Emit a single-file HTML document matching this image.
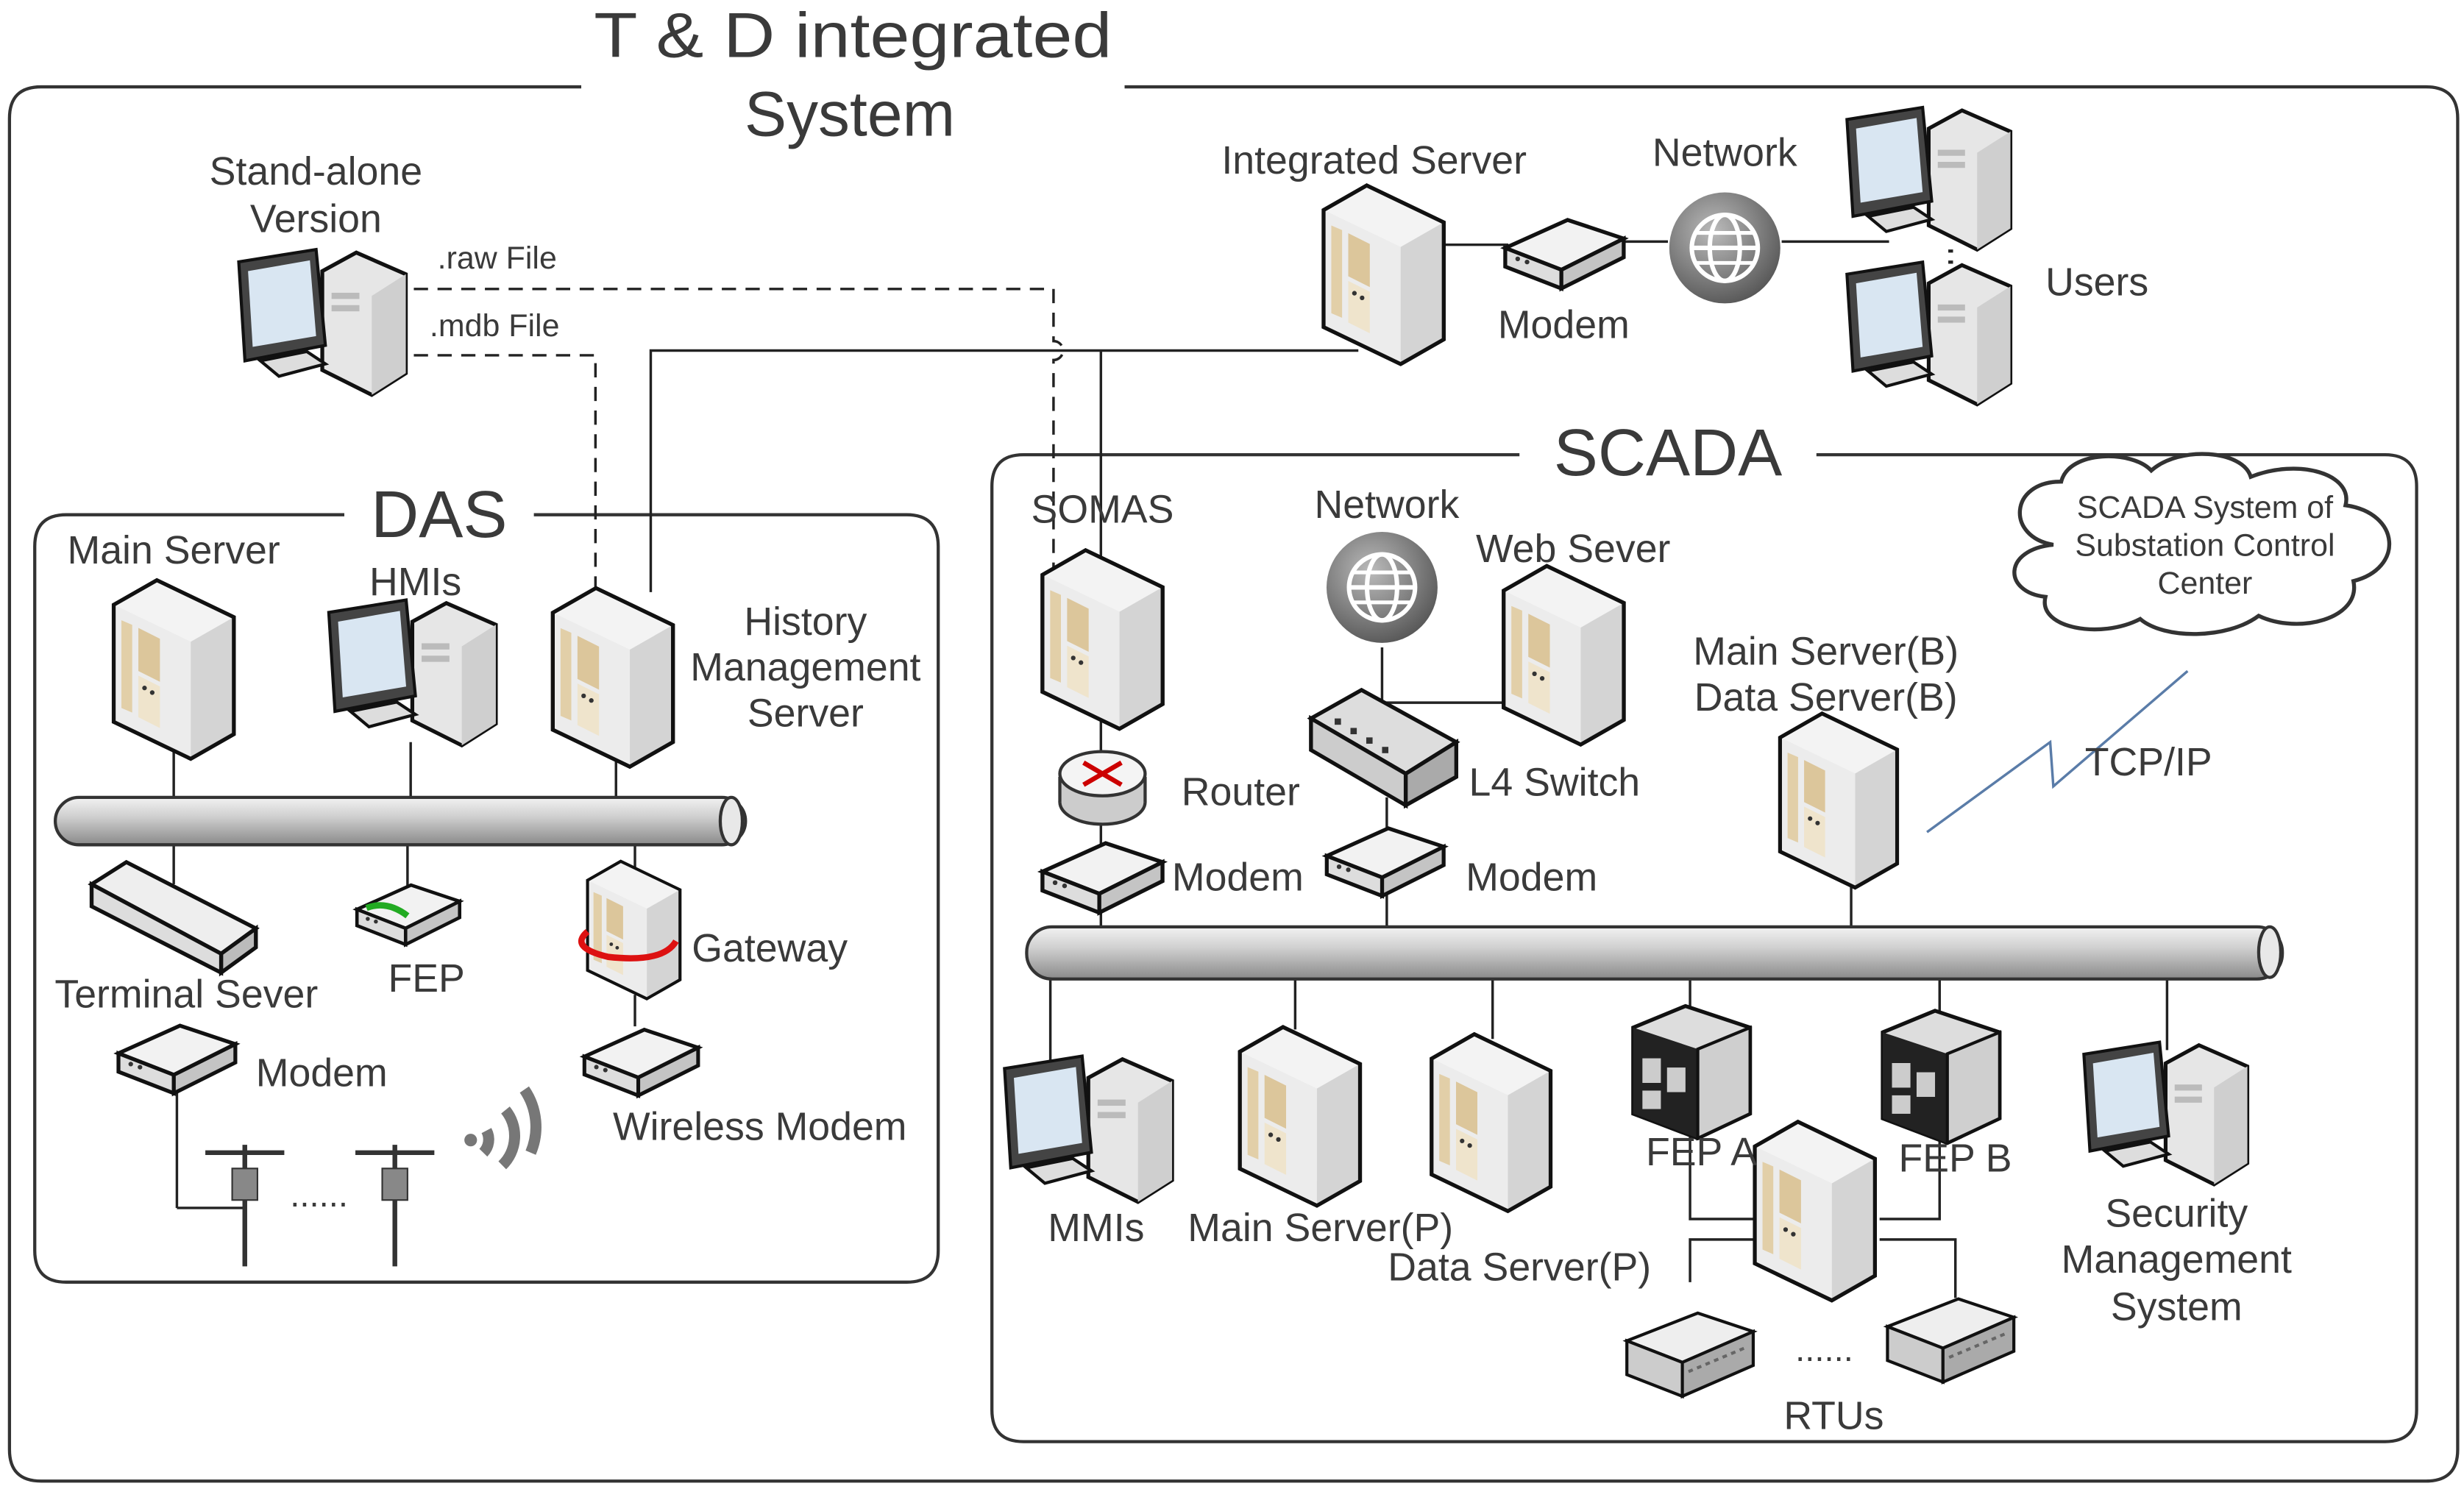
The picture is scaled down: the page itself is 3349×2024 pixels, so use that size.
<!DOCTYPE html>
<html><head><meta charset="utf-8"><style>
html,body{margin:0;padding:0;background:#fff;}
svg{display:block;}
text{font-family:"Liberation Sans",sans-serif;fill:#3a3a3a;}
</style></head><body>
<svg width="3349" height="2024" viewBox="0 0 1560 943" preserveAspectRatio="none" xmlns="http://www.w3.org/2000/svg">
<defs>
<linearGradient id="pipe" x1="0" y1="0" x2="0" y2="1">
<stop offset="0" stop-color="#f2f2f2"/><stop offset="0.4" stop-color="#d0d0d0"/><stop offset="1" stop-color="#8a8a8a"/></linearGradient>
<radialGradient id="glb" cx="0.4" cy="0.35" r="0.7"><stop offset="0" stop-color="#bbb"/><stop offset="1" stop-color="#555"/></radialGradient>
<symbol id="srv" viewBox="0 0 80 116" overflow="visible">
<polygon points="0,16 28,0 78,24 78,100 50,116 0,92" fill="#e6e6e6" stroke="#111" stroke-width="2.5"/>
<polygon points="28,0 78,24 50,40 0,16" fill="#f3f3f3"/>
<polygon points="50,40 78,24 78,100 50,116" fill="#d4d4d4"/>
<polygon points="0,16 50,40 50,116 0,92" fill="#ececec"/>
<polygon points="0,16 28,0 78,24 78,100 50,116 0,92" fill="none" stroke="#111" stroke-width="2.5"/>
<polygon points="5,26 12,29 12,86 5,83" fill="#e2cfa8"/>
<polygon points="16,31 30,38 30,66 16,59" fill="#dcc69b"/>
<polygon points="16,62 30,69 30,96 16,89" fill="#efe4cc"/>
<circle cx="20" cy="70" r="1.5" fill="#333"/><circle cx="25" cy="73" r="1.5" fill="#333"/>
</symbol>
<symbol id="pc" viewBox="0 0 112 96" overflow="visible">
<polygon points="54,14 76,2 108,16 108,80 86,94 54,78" fill="#e6e6e6" stroke="#111" stroke-width="2.5"/>
<polygon points="86,30 108,16 108,80 86,94" fill="#cfcfcf"/>
<rect x="60" y="28" width="18" height="4" fill="#bbb"/><rect x="60" y="36" width="18" height="4" fill="#bbb"/>
<polygon points="0,8 50,0 56,62 4,72" fill="#444" stroke="#111" stroke-width="2"/>
<polygon points="6,14 46,7 50,56 9,63" fill="#d9e6f2"/>
<polygon points="14,72 44,66 56,74 26,82" fill="#ddd" stroke="#111" stroke-width="2"/>
</symbol>
<symbol id="mdm" viewBox="0 0 76 50" overflow="visible">
<polygon points="0,22 40,4 76,16 36,36" fill="#f2f2f2" stroke="#111" stroke-width="2.5"/>
<polygon points="0,22 36,36 36,48 0,34" fill="#ddd" stroke="#111" stroke-width="2.5"/>
<polygon points="36,36 76,16 76,28 36,48" fill="#c4c4c4" stroke="#111" stroke-width="2.5"/>
<circle cx="8" cy="29" r="1.5" fill="#333"/><circle cx="14" cy="31" r="1.5" fill="#333"/>
</symbol>
<symbol id="globe" viewBox="-40 -40 80 80" overflow="visible">
<circle r="37" fill="url(#glb)"/><circle r="22" fill="none" stroke="#fff" stroke-width="3"/>
<ellipse rx="10" ry="22" fill="none" stroke="#fff" stroke-width="3"/>
<line x1="-22" y1="0" x2="22" y2="0" stroke="#fff" stroke-width="3"/>
<line x1="-19" y1="-10" x2="19" y2="-10" stroke="#fff" stroke-width="2.5"/>
<line x1="-19" y1="10" x2="19" y2="10" stroke="#fff" stroke-width="2.5"/>
</symbol>
<symbol id="rtu" viewBox="0 0 82 60" overflow="visible">
<polygon points="0,24 46,6 82,18 36,38" fill="#eee" stroke="#111" stroke-width="2"/>
<polygon points="0,24 36,38 36,60 0,46" fill="#ccc" stroke="#111" stroke-width="2"/>
<polygon points="36,38 82,18 82,40 36,60" fill="#aaa" stroke="#111" stroke-width="2"/>
<line x1="40" y1="44" x2="78" y2="28" stroke="#666" stroke-width="2" stroke-dasharray="3 3"/>
</symbol>
<symbol id="fep" viewBox="0 0 76 86" overflow="visible">
<polygon points="0,14 34,0 76,14 76,70 42,86 0,70" fill="#ddd" stroke="#111" stroke-width="2.5"/>
<polygon points="0,14 42,28 42,86 0,70" fill="#222"/>
<rect x="6" y="34" width="12" height="16" fill="#ccc"/><rect x="22" y="40" width="12" height="16" fill="#ccc"/>
<rect x="6" y="55" width="12" height="12" fill="#ccc"/>
<polygon points="42,28 76,14 76,70 42,86" fill="#cfcfcf" stroke="#111" stroke-width="2"/>
</symbol>
</defs>

<!-- outer box -->
<path d="M368,55 H26 Q6,55 6,75 V918 Q6,938 26,938 H1536 Q1556,938 1556,918 V75 Q1556,55 1536,55 H712" fill="none" stroke="#333" stroke-width="2"/>
<text x="540" y="36" font-size="40" text-anchor="middle" textLength="328" lengthAdjust="spacingAndGlyphs">T &amp; D integrated</text>
<text x="538" y="86" font-size="40" text-anchor="middle">System</text>

<!-- DAS box -->
<path d="M218,326 H42 Q22,326 22,346 V792 Q22,812 42,812 H574 Q594,812 594,792 V346 Q594,326 574,326 H338" fill="none" stroke="#333" stroke-width="2"/>
<text x="278" y="340" font-size="42" text-anchor="middle">DAS</text>

<!-- SCADA box -->
<path d="M962,288 H648 Q628,288 628,308 V893 Q628,913 648,913 H1510 Q1530,913 1530,893 V308 Q1530,288 1510,288 H1150" fill="none" stroke="#333" stroke-width="2"/>
<text x="1056" y="301" font-size="42" text-anchor="middle">SCADA</text>

<g stroke="#222" stroke-width="1.6" fill="none">
<path d="M860,222 H412 V375"/>
<path d="M697,222 V352"/>
<path d="M915,155 H955"/>
<path d="M1028,153 H1056"/>
<path d="M1128,153 H1196"/>
</g>
<g stroke="#222" stroke-width="1.6" fill="none" stroke-dasharray="9 6">
<path d="M262,183 H667 V216 A5,5 0 0 1 667,228 V365"/>
<path d="M262,225 H377 V372"/>
</g>
<line x1="1235" y1="158" x2="1235" y2="182" stroke="#222" stroke-width="3" stroke-dasharray="2 5"/>

<text x="277" y="170" font-size="20">.raw File</text>
<text x="272" y="213" font-size="20">.mdb File</text>
<text x="200" y="117" font-size="25" text-anchor="middle">Stand-alone</text>
<text x="200" y="147" font-size="25" text-anchor="middle">Version</text>
<use href="#pc" x="150" y="158" width="112" height="94"/>

<text x="870" y="110" font-size="25" text-anchor="middle">Integrated Server</text>
<use href="#srv" x="838" y="117" width="78" height="114"/>
<use href="#mdm" x="953" y="135" width="75" height="50"/>
<text x="990" y="214" font-size="25" text-anchor="middle">Modem</text>
<text x="1092" y="105" font-size="25" text-anchor="middle">Network</text>
<use href="#globe" x="1054" y="119" width="76" height="76"/>
<use href="#pc" x="1168" y="68" width="110" height="92"/>
<use href="#pc" x="1168" y="166" width="110" height="92"/>
<text x="1295" y="187" font-size="25">Users</text>

<g stroke="#222" stroke-width="1.6">
<line x1="110" y1="475" x2="110" y2="510"/><line x1="260" y1="470" x2="260" y2="510"/><line x1="390" y1="480" x2="390" y2="510"/>
<line x1="110" y1="532" x2="110" y2="560"/><line x1="258" y1="532" x2="258" y2="565"/><line x1="402" y1="532" x2="402" y2="550"/>
<line x1="112" y1="690" x2="112" y2="765"/><line x1="112" y1="765" x2="155" y2="765"/><line x1="402" y1="630" x2="402" y2="650"/>
</g>
<text x="110" y="357" font-size="25" text-anchor="middle">Main Server</text>
<use href="#srv" x="72" y="367" width="78" height="114"/>
<text x="263" y="377" font-size="25" text-anchor="middle">HMIs</text>
<use href="#pc" x="208" y="380" width="110" height="94"/>
<use href="#srv" x="350" y="372" width="78" height="114"/>
<text x="510" y="402" font-size="25" text-anchor="middle">History</text>
<text x="510" y="431" font-size="25" text-anchor="middle">Management</text>
<text x="510" y="460" font-size="25" text-anchor="middle">Server</text>
<rect x="35" y="505" width="437" height="30" rx="15" fill="url(#pipe)" stroke="#333" stroke-width="2"/>
<ellipse cx="463" cy="520" rx="7" ry="15" fill="#e8e8e8" stroke="#333" stroke-width="2"/>

<g stroke="#111" stroke-width="2.5">
<polygon points="58,560 80,546 162,588 140,604" fill="#eee"/>
<polygon points="140,604 162,588 162,600 140,616" fill="#bbb"/>
<polygon points="58,560 140,604 140,616 58,574" fill="#ddd"/>
</g>
<text x="118" y="638" font-size="25" text-anchor="middle">Terminal Sever</text>
<use href="#mdm" x="226" y="557" width="65" height="43"/>
<path d="M232,575 Q245,570 258,580" stroke="#2a2" stroke-width="4" fill="none"/>
<text x="270" y="628" font-size="25" text-anchor="middle">FEP</text>
<use href="#srv" x="372" y="545" width="60" height="88"/>
<path d="M372,590 Q360,600 385,606 Q420,610 428,596" stroke="#d11" stroke-width="4" fill="none"/>
<text x="438" y="609" font-size="25">Gateway</text>
<use href="#mdm" x="75" y="645" width="74" height="50"/>
<text x="162" y="688" font-size="25">Modem</text>
<use href="#mdm" x="370" y="648" width="72" height="48"/>
<text x="388" y="722" font-size="25">Wireless Modem</text>
<g stroke="#333" stroke-width="3" fill="none">
<line x1="155" y1="725" x2="155" y2="802"/><line x1="130" y1="730" x2="180" y2="730"/>
<line x1="250" y1="725" x2="250" y2="802"/><line x1="225" y1="730" x2="275" y2="730"/>
</g>
<rect x="147" y="740" width="16" height="20" fill="#888" stroke="#333"/>
<rect x="242" y="740" width="16" height="20" fill="#888" stroke="#333"/>
<text x="202" y="764" font-size="22" text-anchor="middle">......</text>
<g stroke="#777" stroke-width="7" fill="none">
<circle cx="298" cy="722" r="4" fill="#777" stroke="none"/>
<path d="M308,716 A12,12 0 0 1 306,730"/>
<path d="M320,703 A26,26 0 0 1 318,738"/>
<path d="M332,690 A42,42 0 0 1 336,730"/>
</g>

<g stroke="#222" stroke-width="1.6">
<line x1="697" y1="455" x2="697" y2="478"/><line x1="697" y1="520" x2="697" y2="540"/><line x1="697" y1="575" x2="697" y2="590"/>
<line x1="875" y1="410" x2="875" y2="445"/><line x1="875" y1="445" x2="990" y2="445"/><line x1="878" y1="505" x2="878" y2="525"/><line x1="878" y1="565" x2="878" y2="590"/>
<line x1="1172" y1="560" x2="1172" y2="590"/>
<line x1="665" y1="618" x2="665" y2="672"/><line x1="820" y1="618" x2="820" y2="652"/><line x1="945" y1="618" x2="945" y2="658"/>
<line x1="1070" y1="618" x2="1070" y2="640"/><line x1="1228" y1="618" x2="1228" y2="645"/><line x1="1372" y1="618" x2="1372" y2="665"/>
<path d="M1070,715 V772 H1112 M1228,718 V772 H1190 M1112,785 H1070 V812 M1190,785 H1238 V822" fill="none"/>
</g>
<text x="698" y="331" font-size="25" text-anchor="middle">SOMAS</text>
<use href="#srv" x="660" y="348" width="78" height="114"/>
<ellipse cx="698" cy="508" rx="27" ry="14" fill="#ccc" stroke="#333" stroke-width="2"/>
<rect x="671" y="492" width="54" height="16" fill="#ccc"/>
<line x1="671" y1="492" x2="671" y2="508" stroke="#333" stroke-width="2"/><line x1="725" y1="492" x2="725" y2="508" stroke="#333" stroke-width="2"/>
<ellipse cx="698" cy="490" rx="27" ry="14" fill="#f4f4f4" stroke="#333" stroke-width="2"/>
<path d="M686,483 L710,497 M710,483 L686,497" stroke="#c00" stroke-width="3"/>
<text x="748" y="510" font-size="25">Router</text>
<use href="#mdm" x="660" y="530" width="76" height="50"/>
<text x="742" y="564" font-size="25">Modem</text>
<text x="878" y="328" font-size="25" text-anchor="middle">Network</text>
<use href="#globe" x="837" y="334" width="76" height="76"/>
<text x="996" y="356" font-size="25" text-anchor="middle">Web Sever</text>
<use href="#srv" x="952" y="358" width="78" height="114"/>
<g stroke="#111" stroke-width="2.5">
<polygon points="830,455 862,437 922,470 890,490" fill="#ddd"/>
<polygon points="830,455 890,490 890,510 830,475" fill="#ccc"/>
<polygon points="890,490 922,470 922,492 890,510" fill="#aaa"/>
</g>
<g fill="#333"><rect x="845" y="455" width="4" height="4"/><rect x="855" y="461" width="4" height="4"/><rect x="865" y="467" width="4" height="4"/><rect x="875" y="473" width="4" height="4"/></g>
<text x="930" y="504" font-size="25">L4 Switch</text>
<use href="#mdm" x="840" y="520" width="74" height="50"/>
<text x="928" y="564" font-size="25">Modem</text>
<text x="1156" y="421" font-size="25" text-anchor="middle">Main Server(B)</text>
<text x="1156" y="450" font-size="25" text-anchor="middle">Data Server(B)</text>
<use href="#srv" x="1127" y="450" width="76" height="114"/>
<polyline points="1220,527 1298,470 1300,498 1385,425" fill="none" stroke="#5a7ca8" stroke-width="1.6"/>
<text x="1320" y="491" font-size="25">TCP/IP</text>
<path d="M1300,345 C1270,340 1272,305 1305,305 C1310,285 1350,285 1362,298 C1380,282 1420,285 1425,302 C1455,290 1490,300 1485,320 C1520,325 1522,360 1490,368 C1495,392 1455,402 1430,390 C1410,405 1370,405 1355,392 C1330,405 1290,398 1295,378 C1268,375 1268,348 1300,345 Z" fill="#fff" stroke="#333" stroke-width="2.5"/>
<text x="1396" y="328" font-size="20" text-anchor="middle">SCADA System of</text>
<text x="1396" y="352" font-size="20" text-anchor="middle">Substation Control</text>
<text x="1396" y="376" font-size="20" text-anchor="middle">Center</text>

<rect x="650" y="587" width="795" height="33" rx="16" fill="url(#pipe)" stroke="#333" stroke-width="2"/>
<ellipse cx="1437" cy="603" rx="7" ry="16" fill="#e8e8e8" stroke="#333" stroke-width="2"/>

<use href="#pc" x="636" y="668" width="110" height="96"/>
<text x="694" y="786" font-size="25" text-anchor="middle">MMIs</text>
<use href="#srv" x="785" y="650" width="78" height="114"/>
<text x="836" y="786" font-size="25" text-anchor="middle">Main Server(P)</text>
<use href="#srv" x="906" y="655" width="78" height="112"/>
<text x="962" y="811" font-size="25" text-anchor="middle">Data Server(P)</text>
<use href="#fep" x="1034" y="636" width="74" height="86"/>
<use href="#fep" x="1192" y="640" width="74" height="84"/>
<use href="#srv" x="1111" y="710" width="78" height="114"/>
<text x="1042" y="738" font-size="25">FEP A</text>
<text x="1202" y="742" font-size="25">FEP B</text>
<use href="#pc" x="1318" y="660" width="110" height="92"/>
<text x="1378" y="777" font-size="25" text-anchor="middle">Security</text>
<text x="1378" y="806" font-size="25" text-anchor="middle">Management</text>
<text x="1378" y="836" font-size="25" text-anchor="middle">System</text>
<use href="#rtu" x="1030" y="825" width="80" height="60"/>
<use href="#rtu" x="1195" y="815" width="80" height="62"/>
<text x="1155" y="862" font-size="22" text-anchor="middle">......</text>
<text x="1161" y="905" font-size="25" text-anchor="middle">RTUs</text>
</svg>
</body></html>
